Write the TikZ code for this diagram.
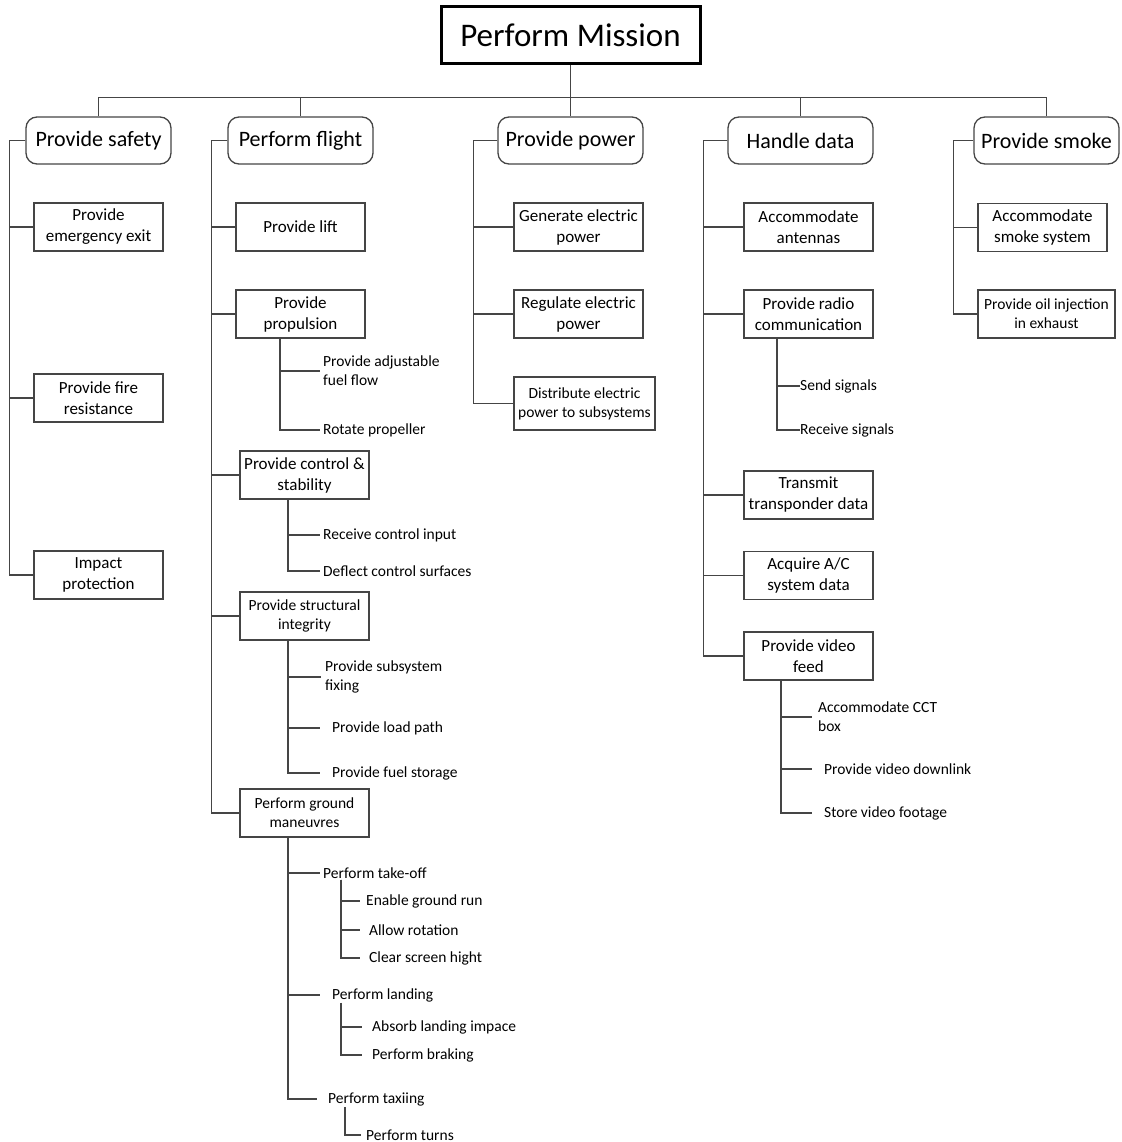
\documentclass[tikz,border=0pt]{standalone}
\usepackage{fontspec}
\setmainfont{Carlito}
\definecolor{linegray}{HTML}{454545}
\tikzset{
  mainbox/.style={draw=black, line width=3pt, minimum width=259, minimum height=57, font=\fontsize{33}{40}\selectfont},
  topbox/.style={draw=linegray, line width=1.3pt, rounded corners=11, minimum width=145, minimum height=47, font=\fontsize{22}{26}\selectfont},
  subbox/.style={draw=linegray, line width=1.3pt, minimum width=129, minimum height=48, align=center, inner sep=1pt, font=\fontsize{17}{21}\selectfont},
  smallbox/.style={subbox, font=\fontsize{15.5}{19}\selectfont},
  leaf/.style={anchor=west, align=left, inner ysep=1pt, inner xsep=3pt, font=\fontsize{15.5}{19}\selectfont},
  link/.style={draw=linegray, line width=1.2pt},
}
\begin{document}
\begin{tikzpicture}[x=1pt, y=-1pt]
\useasboundingbox (0,0) rectangle (1121,1142);
% top level
\node[mainbox] (mission) at (570.5,35.5) {Perform Mission};
\node[topbox] (safety) at (98.5,140.5) {Provide safety};
\node[topbox] (flight) at (300.5,140.5) {Perform flight};
\node[topbox] (power) at (570.5,140.5) {Provide power};
\node[topbox] (data) at (800.5,140.5) {Handle data};
\node[topbox] (smoke) at (1046.5,140.5) {Provide smoke};
\draw[link] (mission.south) -- ++(0,32) coordinate (bus);
\draw[link] (safety.north) |- (bus) -| (smoke.north);
\foreach \t in {flight,power,data} \draw[link] (\t.north) -- (\t.north |- bus);
% safety
\node[subbox] (exit) at (98.5,227) {Provide\\emergency exit};
\node[subbox] (fire) at (98.5,398) {Provide fire\\resistance};
\node[subbox] (impact) at (98.5,575) {Impact\\protection};
\foreach \c in {exit,fire,impact} \draw[link] (safety.west) -- ++(-16,0) |- (\c.west);
% flight
\node[subbox] (lift) at (300.5,227) {Provide lift};
\node[subbox] (prop) at (300.5,314) {Provide\\propulsion};
\node[subbox] (ctrl) at (304.5,475) {Provide control \&\\stability};
\node[smallbox] (struct) at (304.5,616) {Provide structural\\integrity};
\node[smallbox] (ground) at (304.5,813) {Perform ground\\maneuvres};
\foreach \c in {lift,prop,ctrl,struct,ground} \draw[link] (flight.west) -- ++(-16,0) |- (\c.west);
\node[leaf] (fuel) at (320,371) {Provide adjustable\\fuel flow};
\node[leaf] (rot) at (320,430) {Rotate propeller};
\foreach \c in {fuel,rot} \draw[link] ([xshift=-20.5]prop.south) |- (\c.west);
\node[leaf] (rcv) at (320,535) {Receive control input};
\node[leaf] (defl) at (320,571) {Deflect control surfaces};
\foreach \c in {rcv,defl} \draw[link] ([xshift=-16.5]ctrl.south) |- (\c.west);
\node[leaf, inner xsep=4pt] (fix) at (321,677) {Provide subsystem\\fixing};
\node[leaf, inner xsep=12pt] (load) at (320,728) {Provide load path};
\node[leaf, inner xsep=12pt] (stor) at (320,773) {Provide fuel storage};
\foreach \c in {fix,load,stor} \draw[link] ([xshift=-16.5]struct.south) |- (\c.west);
\node[leaf] (tko) at (320,873) {Perform take-off};
\node[leaf, inner xsep=12pt] (land) at (320,995) {Perform landing};
\node[leaf, inner xsep=11pt] (taxi) at (317,1099) {Perform taxiing};
\foreach \c in {tko,land,taxi} \draw[link] ([xshift=-16.5]ground.south) |- (\c.west);
\node[leaf, inner xsep=6pt] (run) at (360,901) {Enable ground run};
\node[leaf, inner xsep=9pt] (rotn) at (360,930) {Allow rotation};
\node[leaf, inner xsep=9pt] (clr) at (360,958) {Clear screen hight};
\foreach \c in {run,rotn,clr} \draw[link] ([xshift=21]tko.south west) |- (\c.west);
\node[leaf, inner xsep=10pt] (absb) at (362,1027) {Absorb landing impace};
\node[leaf, inner xsep=10pt] (brk) at (362,1055) {Perform braking};
\foreach \c in {absb,brk} \draw[link] ([xshift=21]land.south west) |- (\c.west);
\node[leaf, inner xsep=5pt] (turn) at (361,1135) {Perform turns};
\draw[link] ([xshift=28]taxi.south west) |- (turn.west);
% power
\node[subbox] (gen) at (578.5,227) {Generate electric\\power};
\node[subbox] (reg) at (578.5,314) {Regulate electric\\power};
\node[smallbox, minimum width=141, minimum height=53] (dist) at (584.5,403.5) {Distribute electric\\power to subsystems};
\foreach \c in {gen,reg,dist} \draw[link] (power.west) -- ++(-24,0) |- (\c.west);
% data
\node[subbox] (ant) at (808.5,227) {Accommodate\\antennas};
\node[subbox] (radio) at (808.5,314) {Provide radio\\communication};
\node[subbox] (xpdr) at (808.5,495) {Transmit\\transponder data};
\node[subbox] (acq) at (808.5,575.5) {Acquire A/C\\system data};
\node[subbox] (video) at (808.5,656) {Provide video\\feed};
\foreach \c in {ant,radio,xpdr,acq,video} \draw[link] (data.west) -- ++(-24,0) |- (\c.west);
\node[leaf, inner xsep=0pt] (snd) at (800,386) {Send signals};
\node[leaf, inner xsep=0pt] (rcvs) at (800,430) {Receive signals};
\foreach \c in {snd,rcvs} \draw[link] ([xshift=-31.5]radio.south) |- (\c.west);
\node[leaf, inner xsep=6pt] (cct) at (812,717) {Accommodate CCT\\box};
\node[leaf, inner xsep=12pt] (dl) at (812,769) {Provide video downlink};
\node[leaf, inner xsep=12pt] (ftg) at (812,813) {Store video footage};
\foreach \c in {cct,dl,ftg} \draw[link] ([xshift=-27.5]video.south) |- (\c.west);
% smoke
\node[subbox] (smk) at (1042.5,227.5) {Accommodate\\smoke system};
\node[smallbox, minimum width=137] (oil) at (1046.5,314) {Provide oil injection\\in exhaust};
\foreach \c in {smk,oil} \draw[link] (smoke.west) -- ++(-20,0) |- (\c.west);
\end{tikzpicture}
\end{document}
